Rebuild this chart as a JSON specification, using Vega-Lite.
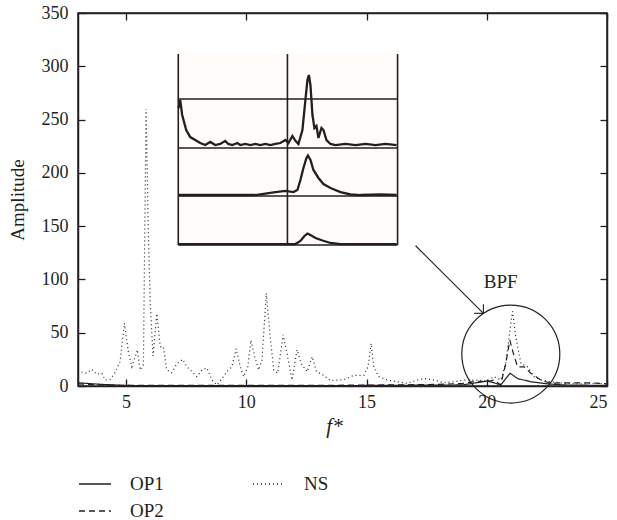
{
  "$schema": "https://vega.github.io/schema/vega-lite/v6.json",
  "width": 529,
  "height": 373,
  "autosize": {"type": "none"},
  "padding": {"left": 78, "top": 13, "right": 10, "bottom": 134},
  "background": "white",
  "config": {
    "view": {"stroke": "#231f20", "strokeWidth": 1.5},
    "font": "Liberation Serif",
    "axis": {
      "domainColor": "#231f20", "domainWidth": 1.5, "tickColor": "#231f20", "tickWidth": 1.3,
      "tickSize": -7, "grid": false, "labelFont": "Liberation Serif", "labelFontSize": 18,
      "labelColor": "#231f20", "titleFont": "Liberation Serif", "titleFontSize": 19,
      "titleFontWeight": "normal", "titleColor": "#231f20"
    }
  },
  "resolve": {"axis": {"x": "independent", "y": "independent"}},
  "datasets": {
    "main": [
      {"series": "NS", "x": 3.0, "y": 12}, {"series": "NS", "x": 3.08, "y": 13.4}, {"series": "NS", "x": 3.36, "y": 12},
      {"series": "NS", "x": 3.57, "y": 15.6}, {"series": "NS", "x": 3.78, "y": 11}, {"series": "NS", "x": 3.99, "y": 12},
      {"series": "NS", "x": 4.13, "y": 5.6}, {"series": "NS", "x": 4.33, "y": 6}, {"series": "NS", "x": 4.54, "y": 12.5},
      {"series": "NS", "x": 4.75, "y": 23}, {"series": "NS", "x": 4.93, "y": 59}, {"series": "NS", "x": 5.1, "y": 31},
      {"series": "NS", "x": 5.24, "y": 18}, {"series": "NS", "x": 5.38, "y": 27.5}, {"series": "NS", "x": 5.47, "y": 34},
      {"series": "NS", "x": 5.58, "y": 15}, {"series": "NS", "x": 5.72, "y": 20}, {"series": "NS", "x": 5.83, "y": 260},
      {"series": "NS", "x": 5.92, "y": 150}, {"series": "NS", "x": 6.0, "y": 80}, {"series": "NS", "x": 6.12, "y": 28},
      {"series": "NS", "x": 6.28, "y": 68}, {"series": "NS", "x": 6.42, "y": 37}, {"series": "NS", "x": 6.55, "y": 37},
      {"series": "NS", "x": 6.69, "y": 15}, {"series": "NS", "x": 6.9, "y": 12.5}, {"series": "NS", "x": 7.11, "y": 21},
      {"series": "NS", "x": 7.36, "y": 25}, {"series": "NS", "x": 7.53, "y": 18}, {"series": "NS", "x": 7.74, "y": 13.4},
      {"series": "NS", "x": 7.94, "y": 8.75}, {"series": "NS", "x": 8.15, "y": 15}, {"series": "NS", "x": 8.36, "y": 17},
      {"series": "NS", "x": 8.57, "y": 5.6}, {"series": "NS", "x": 8.78, "y": 1}, {"series": "NS", "x": 8.99, "y": 7},
      {"series": "NS", "x": 9.19, "y": 13.4}, {"series": "NS", "x": 9.4, "y": 18}, {"series": "NS", "x": 9.58, "y": 35},
      {"series": "NS", "x": 9.75, "y": 18}, {"series": "NS", "x": 9.89, "y": 8.75}, {"series": "NS", "x": 10.06, "y": 18},
      {"series": "NS", "x": 10.19, "y": 43}, {"series": "NS", "x": 10.35, "y": 27.5}, {"series": "NS", "x": 10.51, "y": 15},
      {"series": "NS", "x": 10.65, "y": 24}, {"series": "NS", "x": 10.83, "y": 87}, {"series": "NS", "x": 10.97, "y": 52},
      {"series": "NS", "x": 11.14, "y": 15}, {"series": "NS", "x": 11.31, "y": 12}, {"series": "NS", "x": 11.53, "y": 48},
      {"series": "NS", "x": 11.69, "y": 31}, {"series": "NS", "x": 11.9, "y": 5.6}, {"series": "NS", "x": 12.11, "y": 34},
      {"series": "NS", "x": 12.28, "y": 21}, {"series": "NS", "x": 12.53, "y": 13.4}, {"series": "NS", "x": 12.74, "y": 27.5},
      {"series": "NS", "x": 12.92, "y": 13.4}, {"series": "NS", "x": 13.22, "y": 10}, {"series": "NS", "x": 13.5, "y": 5},
      {"series": "NS", "x": 14.06, "y": 6}, {"series": "NS", "x": 14.47, "y": 10}, {"series": "NS", "x": 14.89, "y": 10},
      {"series": "NS", "x": 15.06, "y": 18}, {"series": "NS", "x": 15.19, "y": 40}, {"series": "NS", "x": 15.3, "y": 18},
      {"series": "NS", "x": 15.51, "y": 8.75}, {"series": "NS", "x": 15.86, "y": 5.6}, {"series": "NS", "x": 16.28, "y": 4},
      {"series": "NS", "x": 16.7, "y": 2.5}, {"series": "NS", "x": 17.11, "y": 5.6}, {"series": "NS", "x": 17.39, "y": 7},
      {"series": "NS", "x": 17.8, "y": 5.6}, {"series": "NS", "x": 18.22, "y": 3}, {"series": "NS", "x": 18.64, "y": 4},
      {"series": "NS", "x": 19.06, "y": 5.6}, {"series": "NS", "x": 19.61, "y": 5.6}, {"series": "NS", "x": 20.03, "y": 4.7},
      {"series": "NS", "x": 20.3, "y": 8.75}, {"series": "NS", "x": 20.58, "y": 5.6}, {"series": "NS", "x": 20.79, "y": 21},
      {"series": "NS", "x": 20.93, "y": 46}, {"series": "NS", "x": 21.07, "y": 70}, {"series": "NS", "x": 21.21, "y": 46},
      {"series": "NS", "x": 21.42, "y": 21}, {"series": "NS", "x": 21.69, "y": 18}, {"series": "NS", "x": 21.97, "y": 8.75},
      {"series": "NS", "x": 22.25, "y": 5.6}, {"series": "NS", "x": 22.67, "y": 4}, {"series": "NS", "x": 23.22, "y": 2.5},
      {"series": "NS", "x": 23.92, "y": 2}, {"series": "NS", "x": 24.61, "y": 2.5}, {"series": "NS", "x": 25, "y": 2},
      {"series": "OP2", "x": 3, "y": 2}, {"series": "OP2", "x": 4, "y": 1}, {"series": "OP2", "x": 5, "y": 0.5},
      {"series": "OP2", "x": 8, "y": 0.5}, {"series": "OP2", "x": 12, "y": 0.5}, {"series": "OP2", "x": 16, "y": 1},
      {"series": "OP2", "x": 18, "y": 1.5}, {"series": "OP2", "x": 19, "y": 2.5}, {"series": "OP2", "x": 19.6, "y": 4.5},
      {"series": "OP2", "x": 20, "y": 4}, {"series": "OP2", "x": 20.3, "y": 5.6}, {"series": "OP2", "x": 20.58, "y": 1},
      {"series": "OP2", "x": 20.79, "y": 21}, {"series": "OP2", "x": 20.96, "y": 43}, {"series": "OP2", "x": 21.1, "y": 31},
      {"series": "OP2", "x": 21.28, "y": 18}, {"series": "OP2", "x": 21.56, "y": 18}, {"series": "OP2", "x": 21.83, "y": 12},
      {"series": "OP2", "x": 22.25, "y": 5.6}, {"series": "OP2", "x": 22.67, "y": 2.5}, {"series": "OP2", "x": 23.22, "y": 3},
      {"series": "OP2", "x": 24.33, "y": 3}, {"series": "OP2", "x": 25, "y": 2},
      {"series": "OP1", "x": 3, "y": 3}, {"series": "OP1", "x": 4, "y": 1.5}, {"series": "OP1", "x": 5, "y": 0.5},
      {"series": "OP1", "x": 10, "y": 0.3}, {"series": "OP1", "x": 15, "y": 0.5}, {"series": "OP1", "x": 19, "y": 1},
      {"series": "OP1", "x": 20.03, "y": 4.7}, {"series": "OP1", "x": 20.3, "y": 3}, {"series": "OP1", "x": 20.58, "y": 1},
      {"series": "OP1", "x": 20.97, "y": 12}, {"series": "OP1", "x": 21.28, "y": 7}, {"series": "OP1", "x": 21.83, "y": 4},
      {"series": "OP1", "x": 22.53, "y": 2}, {"series": "OP1", "x": 23.2, "y": 1}, {"series": "OP1", "x": 25, "y": 0.5}
    ],
    "insetBox": [{"x": 7.17, "x2": 16.29, "y": 132.3, "y2": 311.5}],
    "insetRules": [
      {"x": 7.17, "x2": 7.17, "y": 132.3, "y2": 311.5},
      {"x": 11.71, "x2": 11.71, "y": 132.3, "y2": 311.5},
      {"x": 16.29, "x2": 16.29, "y": 132.3, "y2": 311.5},
      {"x": 7.17, "x2": 16.29, "y": 269.3, "y2": 269.3},
      {"x": 7.17, "x2": 16.29, "y": 223.3, "y2": 223.3},
      {"x": 7.17, "x2": 16.29, "y": 178.3, "y2": 178.3},
      {"x": 7.17, "x2": 16.29, "y": 132.3, "y2": 132.3}
    ],
    "insetCurves": [
      {"panel": "a", "x": 7.18, "y": 260.6}, {"panel": "a", "x": 7.25, "y": 268.4}, {"panel": "a", "x": 7.333, "y": 254.3},
      {"panel": "a", "x": 7.5, "y": 240.2}, {"panel": "a", "x": 7.667, "y": 233.6}, {"panel": "a", "x": 7.875, "y": 230.8},
      {"panel": "a", "x": 8.083, "y": 228.0}, {"panel": "a", "x": 8.292, "y": 226.1}, {"panel": "a", "x": 8.5, "y": 229.0},
      {"panel": "a", "x": 8.708, "y": 226.1}, {"panel": "a", "x": 8.917, "y": 227.1}, {"panel": "a", "x": 9.125, "y": 230.0},
      {"panel": "a", "x": 9.25, "y": 227.1}, {"panel": "a", "x": 9.417, "y": 226.1}, {"panel": "a", "x": 9.625, "y": 228.0},
      {"panel": "a", "x": 9.75, "y": 226.1}, {"panel": "a", "x": 9.958, "y": 227.1}, {"panel": "a", "x": 10.167, "y": 226.1},
      {"panel": "a", "x": 10.375, "y": 227.1}, {"panel": "a", "x": 10.583, "y": 226.1}, {"panel": "a", "x": 10.792, "y": 227.1},
      {"panel": "a", "x": 11.0, "y": 226.1}, {"panel": "a", "x": 11.208, "y": 227.1}, {"panel": "a", "x": 11.417, "y": 228.0},
      {"panel": "a", "x": 11.625, "y": 230.8}, {"panel": "a", "x": 11.75, "y": 228.0}, {"panel": "a", "x": 11.917, "y": 234.6},
      {"panel": "a", "x": 12.042, "y": 230.0}, {"panel": "a", "x": 12.167, "y": 227.1}, {"panel": "a", "x": 12.333, "y": 240.2},
      {"panel": "a", "x": 12.458, "y": 268.4}, {"panel": "a", "x": 12.542, "y": 287.1}, {"panel": "a", "x": 12.604, "y": 291.8},
      {"panel": "a", "x": 12.667, "y": 282.4}, {"panel": "a", "x": 12.75, "y": 254.3}, {"panel": "a", "x": 12.833, "y": 242.1},
      {"panel": "a", "x": 12.917, "y": 244.0}, {"panel": "a", "x": 13.0, "y": 232.7}, {"panel": "a", "x": 13.125, "y": 242.1},
      {"panel": "a", "x": 13.208, "y": 240.2}, {"panel": "a", "x": 13.333, "y": 230.8}, {"panel": "a", "x": 13.5, "y": 227.1},
      {"panel": "a", "x": 13.708, "y": 226.1}, {"panel": "a", "x": 14.125, "y": 227.1}, {"panel": "a", "x": 14.542, "y": 226.1},
      {"panel": "a", "x": 14.958, "y": 227.1}, {"panel": "a", "x": 15.375, "y": 226.1}, {"panel": "a", "x": 15.792, "y": 227.1},
      {"panel": "a", "x": 16.25, "y": 226.1},
      {"panel": "b", "x": 7.18, "y": 179.2}, {"panel": "b", "x": 8.083, "y": 179.2}, {"panel": "b", "x": 9.333, "y": 179.2},
      {"panel": "b", "x": 10.375, "y": 179.2}, {"panel": "b", "x": 10.792, "y": 180.6}, {"panel": "b", "x": 11.208, "y": 182.0},
      {"panel": "b", "x": 11.625, "y": 183.0}, {"panel": "b", "x": 11.958, "y": 182.0}, {"panel": "b", "x": 12.125, "y": 183.9},
      {"panel": "b", "x": 12.25, "y": 193.3}, {"panel": "b", "x": 12.375, "y": 204.6}, {"panel": "b", "x": 12.5, "y": 213.9},
      {"panel": "b", "x": 12.5625, "y": 216.3}, {"panel": "b", "x": 12.667, "y": 212.1}, {"panel": "b", "x": 12.792, "y": 202.7},
      {"panel": "b", "x": 13.0, "y": 195.2}, {"panel": "b", "x": 13.208, "y": 189.5}, {"panel": "b", "x": 13.5, "y": 185.8},
      {"panel": "b", "x": 13.917, "y": 182.0}, {"panel": "b", "x": 14.333, "y": 179.7}, {"panel": "b", "x": 14.75, "y": 179.2},
      {"panel": "b", "x": 15.583, "y": 179.7}, {"panel": "b", "x": 16.25, "y": 179.2},
      {"panel": "c", "x": 7.18, "y": 133.2}, {"panel": "c", "x": 12.042, "y": 133.2}, {"panel": "c", "x": 12.25, "y": 136.1},
      {"panel": "c", "x": 12.417, "y": 140.8}, {"panel": "c", "x": 12.542, "y": 143.1}, {"panel": "c", "x": 12.667, "y": 141.7},
      {"panel": "c", "x": 12.875, "y": 138.9}, {"panel": "c", "x": 13.167, "y": 136.5}, {"panel": "c", "x": 13.5, "y": 134.2},
      {"panel": "c", "x": 13.917, "y": 133.2}, {"panel": "c", "x": 16.25, "y": 133.2}
    ],
    "circle": [{"x": 21.0, "y": 30.0}],
    "arrow": [
      {"x": 17.04, "y": 131.6, "x2": 19.86, "y2": 68.2},
      {"x": 19.86, "y": 68.2, "x2": 19.47, "y2": 68.2},
      {"x": 19.86, "y": 68.2, "x2": 19.86, "y2": 76.8}
    ],
    "note": [{"x": 20.58, "y": 92, "label": "BPF"}]
  },
  "layer": [
    {
      "data": {"name": "main"},
      "mark": {"type": "line", "color": "#231f20", "strokeWidth": 1.2},
      "encoding": {
        "x": {"field": "x", "type": "quantitative", "scale": {"domain": [3, 25], "nice": false},
              "axis": {"orient": "bottom", "values": [5, 10, 15, 20, 25], "labelPadding": 14, "title": "f*", "titleFontStyle": "italic", "titleFontSize": 21, "titlePadding": 4, "titleX": 256, "titleAlign": "center"}},
        "y": {"field": "y", "type": "quantitative", "scale": {"domain": [0, 350], "nice": false},
              "axis": {"orient": "left", "values": [0, 50, 100, 150, 200, 250, 300, 350], "labelPadding": 17, "title": "Amplitude", "titlePadding": 14}},
        "strokeDash": {"field": "series", "type": "nominal",
          "scale": {"domain": ["OP1", "NS", "OP2"], "range": [[1, 0], [1, 3], [6, 4]]},
          "legend": {"title": null, "orient": "none", "legendX": 0, "legendY": 454, "columns": 2, "direction": "horizontal",
            "symbolType": "stroke", "symbolSize": 1024, "symbolStrokeWidth": 1.3, "symbolStrokeColor": "#231f20",
            "labelFont": "Liberation Serif", "labelFontSize": 19, "labelColor": "#231f20", "labelOffset": 18,
            "rowPadding": -8, "columnPadding": 86}}
      }
    },
    {
      "data": {"name": "insetBox"},
      "mark": {"type": "rect", "fill": "#fffcfa"},
      "encoding": {
        "x": {"field": "x", "type": "quantitative", "scale": {"domain": [3, 25], "nice": false},
              "axis": {"orient": "top", "labels": false, "title": null, "values": [5, 10, 15, 20, 25]}},
        "x2": {"field": "x2"},
        "y": {"field": "y", "type": "quantitative", "scale": {"domain": [0, 350], "nice": false},
              "axis": {"orient": "right", "labels": false, "title": null, "values": [0, 50, 100, 150, 200, 250, 300, 350]}},
        "y2": {"field": "y2"}
      }
    },
    {
      "data": {"name": "insetRules"},
      "mark": {"type": "rule", "color": "#231f20", "strokeWidth": 1.6},
      "encoding": {
        "x": {"field": "x", "type": "quantitative", "axis": null}, "x2": {"field": "x2"},
        "y": {"field": "y", "type": "quantitative", "axis": null}, "y2": {"field": "y2"}
      }
    },
    {
      "data": {"name": "insetCurves"},
      "mark": {"type": "line", "color": "#231f20", "strokeWidth": 2.3},
      "encoding": {
        "x": {"field": "x", "type": "quantitative", "axis": null},
        "y": {"field": "y", "type": "quantitative", "axis": null},
        "detail": {"field": "panel"}
      }
    },
    {
      "data": {"name": "circle"},
      "mark": {"type": "point", "shape": "circle", "filled": false, "stroke": "#231f20", "strokeWidth": 1.2, "size": 9604, "opacity": 1},
      "encoding": {
        "x": {"field": "x", "type": "quantitative", "axis": null},
        "y": {"field": "y", "type": "quantitative", "axis": null}
      }
    },
    {
      "data": {"name": "arrow"},
      "mark": {"type": "rule", "color": "#231f20", "strokeWidth": 1.1},
      "encoding": {
        "x": {"field": "x", "type": "quantitative", "axis": null}, "x2": {"field": "x2"},
        "y": {"field": "y", "type": "quantitative", "axis": null}, "y2": {"field": "y2"}
      }
    },
    {
      "data": {"name": "note"},
      "mark": {"type": "text", "font": "Liberation Serif", "fontSize": 19, "color": "#231f20", "align": "center", "baseline": "alphabetic"},
      "encoding": {
        "x": {"field": "x", "type": "quantitative", "axis": null},
        "y": {"field": "y", "type": "quantitative", "axis": null},
        "text": {"field": "label"}
      }
    }
  ]
}
